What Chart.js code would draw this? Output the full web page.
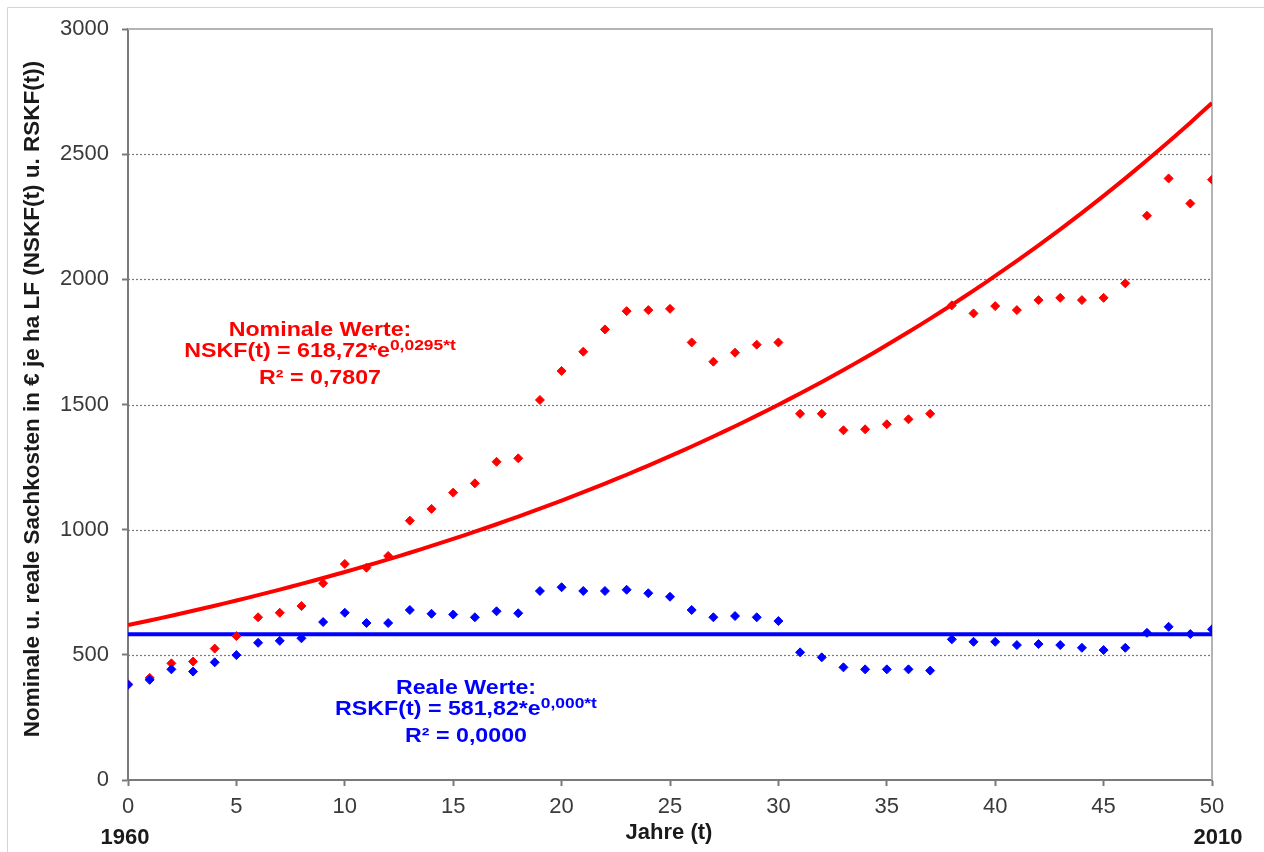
<!DOCTYPE html>
<html>
<head>
<meta charset="utf-8">
<script src="https://cdn.jsdelivr.net/npm/chart.js@4.4.1/dist/chart.umd.min.js"></script>
<style>
  html, body { margin: 0; padding: 0; background: #ffffff; }
  #wrap { position: relative; width: 1264px; height: 852px; }
  canvas { display: block; }
</style>
</head>
<body>
<div id="wrap"><canvas id="c" width="1264" height="852"></canvas></div>
<script>
// Years since 1960 (t = 0 … 50)
const years = [
  0, 1, 2, 3, 4, 5, 6, 7, 8, 9,
  10, 11, 12, 13, 14, 15, 16, 17, 18, 19,
  20, 21, 22, 23, 24, 25, 26, 27, 28, 29,
  30, 31, 32, 33, 34, 35, 36, 37, 38, 39,
  40, 41, 42, 43, 44, 45, 46, 47, 48, 49, 50
];

// Nominale Sachkosten je ha LF (NSKF), €
const nominalValues = [
  383, 408, 466, 473, 525, 575, 650, 668, 695, 786,
  863, 848, 895, 1036, 1083, 1148, 1185, 1271, 1285, 1518,
  1634, 1711, 1800, 1873, 1877, 1882, 1748, 1671, 1707, 1739,
  1748, 1463, 1463, 1397, 1401, 1421, 1441, 1463, 1896, 1864,
  1893, 1877, 1917, 1926, 1917, 1926, 1984, 2254, 2403, 2303, 2398
];

// Reale Sachkosten je ha LF (RSKF), €
const realValues = [
  380, 400, 442, 433, 470, 499, 548, 556, 566, 631,
  668, 627, 627, 679, 664, 661, 650, 674, 666, 755,
  770, 755, 755, 760, 746, 732, 679, 650, 655, 650,
  635, 510, 490, 450, 442, 442, 442, 437, 562, 552,
  552, 539, 543, 539, 528, 519, 528, 588, 612, 583, 602
];

// Exponential trend coefficients  f(t) = a * e^(b*t)
const nominalTrend = [618.72, 0.0295];
const realTrend = [581.82, 0.000];

const xTicks = [0, 5, 10, 15, 20, 25, 30, 35, 40, 45, 50];
const yTicks = [0, 500, 1000, 1500, 2000, 2500, 3000];

const RED = '#ff0000';
const BLUE = '#0000ff';

const pts = (xs, ys) => xs.map((x, i) => ({ x: x, y: ys[i] }));
const trend = (coef) => years.map(t => ({ x: t, y: coef[0] * Math.exp(coef[1] * t) }));

// Dotted grid, plot frame, axis titles and trend equations
const decor = {
  id: 'decor',
  beforeDatasetsDraw(chart) {
    const { ctx, chartArea: a, scales: { y } } = chart;
    ctx.save();
    ctx.strokeStyle = '#7a7a7a';
    ctx.lineWidth = 1.2;
    ctx.setLineDash([2, 2]);
    yTicks.forEach(v => {
      if (v === yTicks[0] || v === yTicks[yTicks.length - 1]) return;
      const py = Math.round(y.getPixelForValue(v)) + 0.5;
      ctx.beginPath();
      ctx.moveTo(a.left, py);
      ctx.lineTo(a.right, py);
      ctx.stroke();
    });
    ctx.setLineDash([]);
    ctx.strokeStyle = '#b4b4b4';
    ctx.lineWidth = 2;
    ctx.beginPath();
    ctx.moveTo(a.left, a.top);
    ctx.lineTo(a.right, a.top);
    ctx.lineTo(a.right, a.bottom);
    ctx.stroke();
    ctx.restore();
  },
  afterDraw(chart) {
    const { ctx, chartArea: a, scales: { x } } = chart;
    ctx.save();
    // outer frame
    ctx.strokeStyle = '#d4d4d4';
    ctx.lineWidth = 1;
    ctx.beginPath();
    ctx.moveTo(7.5, 852);
    ctx.lineTo(7.5, 7.5);
    ctx.lineTo(1264, 7.5);
    ctx.stroke();

    const bold = (s) => 'bold ' + s + 'px "Liberation Sans", Arial, sans-serif';

    // y axis title
    ctx.fillStyle = '#1a1a1a';
    ctx.font = bold(22.5);
    ctx.textAlign = 'center';
    ctx.textBaseline = 'middle';
    ctx.save();
    ctx.translate(33, 399);
    ctx.rotate(-Math.PI / 2);
    ctx.fillText('Nominale u. reale Sachkosten in € je ha LF (NSKF(t) u. RSKF(t))', 0, 0);
    ctx.restore();

    // x axis title and year marks
    ctx.font = bold(22);
    ctx.fillText('Jahre (t)', 669, 833);
    ctx.fillText('1960', x.getPixelForValue(xTicks[0]) - 3, 838);
    ctx.fillText('2010', x.getPixelForValue(xTicks[xTicks.length - 1]) + 6, 838);

    // equation blocks, slightly widened type
    const SX = 1.16;
    const block = (color, cx, top, head, base, sup, r2) => {
      ctx.save();
      ctx.translate(cx, 0);
      ctx.scale(SX, 1);
      ctx.fillStyle = color;
      ctx.textAlign = 'center';
      ctx.textBaseline = 'alphabetic';
      ctx.font = bold(20);
      ctx.fillText(head, 0, top);
      const wBase = ctx.measureText(base).width;
      ctx.font = bold(15);
      const wSup = ctx.measureText(sup).width;
      const left = -(wBase + wSup) / 2;
      ctx.textAlign = 'left';
      ctx.font = bold(20);
      ctx.fillText(base, left, top + 21);
      ctx.font = bold(15);
      ctx.fillText(sup, left + wBase, top + 14);
      ctx.textAlign = 'center';
      ctx.font = bold(20);
      ctx.fillText(r2, 0, top + 48);
      ctx.restore();
    };
    block(RED, 320, 336, 'Nominale Werte:', 'NSKF(t) = 618,72*e', '0,0295*t', 'R² = 0,7807');
    block(BLUE, 466, 694, 'Reale Werte:', 'RSKF(t) = 581,82*e', '0,000*t', 'R² = 0,0000');
    ctx.restore();
  }
};

const tickFont = { family: '"Liberation Sans", Arial, sans-serif', size: 22 };

new Chart(document.getElementById('c'), {
  type: 'scatter',
  data: {
    datasets: [
      {
        label: 'RSKF',
        data: pts(years, realValues),
        pointStyle: 'rectRot',
        pointRadius: 4.5,
        pointBackgroundColor: BLUE,
        pointBorderColor: BLUE,
        pointBorderWidth: 1,
        showLine: false,
        order: 0
      },
      {
        label: 'NSKF',
        data: pts(years, nominalValues),
        pointStyle: 'rectRot',
        pointRadius: 4.5,
        pointBackgroundColor: RED,
        pointBorderColor: RED,
        pointBorderWidth: 1,
        showLine: false,
        order: 1
      },
      {
        label: 'Trend NSKF',
        data: trend(nominalTrend),
        showLine: true,
        borderColor: RED,
        borderWidth: 4,
        pointRadius: 0,
        tension: 0.3,
        order: 2
      },
      {
        label: 'Trend RSKF',
        data: trend(realTrend),
        showLine: true,
        borderColor: BLUE,
        borderWidth: 4,
        pointRadius: 0,
        tension: 0,
        order: 3
      }
    ]
  },
  options: {
    responsive: false,
    animation: false,
    devicePixelRatio: 1,
    layout: { padding: { left: 0, top: 29, right: 52, bottom: 0 } },
    plugins: { legend: { display: false }, tooltip: { enabled: false } },
    scales: {
      x: {
        type: 'linear',
        min: 0,
        max: 50,
        afterBuildTicks: (s) => { s.ticks = xTicks.map(v => ({ value: v })); },
        afterFit: (s) => { s.height = 72; },
        ticks: { font: tickFont, color: '#3a3a3a', padding: 8, maxRotation: 0, autoSkip: false,
                 callback: (v) => String(v) },
        grid: { drawOnChartArea: false, drawTicks: true, tickLength: 6, tickColor: '#7a7a7a', tickWidth: 2 },
        border: { display: true, color: '#7a7a7a', width: 2 }
      },
      y: {
        type: 'linear',
        min: 0,
        max: 3000,
        afterBuildTicks: (s) => { s.ticks = yTicks.map(v => ({ value: v })); },
        afterFit: (s) => { s.width = 128; },
        ticks: { font: tickFont, color: '#3a3a3a', padding: 13, callback: (v) => String(v) },
        grid: { drawOnChartArea: false, drawTicks: true, tickLength: 6, tickColor: '#7a7a7a', tickWidth: 2 },
        border: { display: true, color: '#7a7a7a', width: 2 }
      }
    }
  },
  plugins: [decor]
});
</script>
</body>
</html>
